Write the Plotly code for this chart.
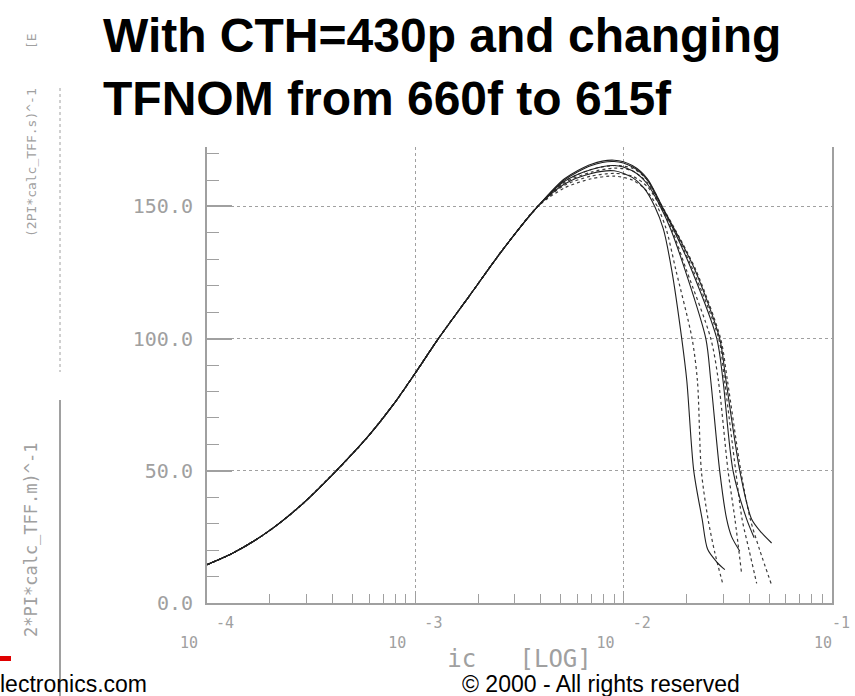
import plotly.graph_objects as go

# ---------------- data ----------------
# common rising branch (all curves overlap here)
IC_RISE = [1.0e-4, 1.34e-4, 1.94e-4, 2.82e-4, 4.17e-4, 5.93e-4, 8.0e-4,
           1.0e-3, 1.29e-3, 1.81e-3, 2.62e-3, 3.87e-3]
FT_RISE = [14.5, 19.0, 26.7, 36.9, 50.0, 63.0, 76.0,
           87.0, 100.0, 116.0, 133.5, 150.0]

# (2*PI*calc_TFF.m)^-1  -- solid curves, one per TFNOM value
M1_IC = [5.2e-3, 7.0e-3, 9.0e-3, 1.10e-2, 1.25e-2, 1.41e-2, 1.55e-2, 1.70e-2,
         1.90e-2, 2.01e-2, 2.17e-2, 2.38e-2, 2.53e-2, 2.80e-2, 3.06e-2]
M1_FT = [158.5, 162.5, 163.5, 161.0, 157.0, 150.0, 141.5, 126.0,
         100.0, 84.0, 50.0, 31.8, 20.3, 15.5, 12.6]
M2_IC = [5.2e-3, 7.0e-3, 9.0e-3, 1.10e-2, 1.30e-2, 1.50e-2, 1.68e-2, 1.97e-2,
         2.48e-2, 2.62e-2, 2.89e-2, 3.12e-2, 3.30e-2, 3.61e-2]
M2_FT = [159.5, 164.0, 165.5, 163.5, 158.5, 150.0, 141.5, 126.0,
         100.0, 84.0, 50.0, 31.8, 25.0, 19.6]
M3_IC = [5.2e-3, 7.0e-3, 9.0e-3, 1.10e-2, 1.30e-2, 1.52e-2, 1.73e-2, 2.12e-2,
         2.80e-2, 3.00e-2, 3.35e-2, 3.89e-2, 4.23e-2]
M3_FT = [160.0, 165.5, 167.0, 165.0, 160.0, 150.0, 141.5, 126.0,
         100.0, 84.0, 50.0, 31.8, 24.7]
M4_IC = [5.2e-3, 7.0e-3, 9.0e-3, 1.10e-2, 1.30e-2, 1.53e-2, 1.75e-2, 2.20e-2,
         2.89e-2, 3.10e-2, 3.61e-2, 4.11e-2, 4.60e-2, 5.13e-2]
M4_FT = [160.5, 166.0, 167.5, 165.5, 160.5, 150.0, 141.5, 126.0,
         100.0, 84.0, 50.0, 31.8, 26.5, 22.7]

# (2PI*calc_TFF.s)^-1  -- dotted curves
S1_IC = [5.2e-3, 7.0e-3, 9.0e-3, 1.10e-2, 1.27e-2, 1.45e-2, 1.60e-2, 1.78e-2,
         2.13e-2, 2.26e-2, 2.36e-2, 2.54e-2, 2.74e-2, 3.00e-2]
S1_FT = [157.0, 160.5, 161.5, 160.0, 156.5, 150.0, 141.5, 126.0,
         100.0, 84.0, 50.0, 31.8, 19.0, 6.8]
S2_IC = [5.2e-3, 7.0e-3, 9.0e-3, 1.10e-2, 1.30e-2, 1.50e-2, 1.70e-2, 2.00e-2,
         2.62e-2, 2.85e-2, 3.17e-2, 3.42e-2, 3.68e-2]
S2_FT = [158.0, 161.5, 162.5, 161.5, 157.5, 150.0, 141.5, 126.0,
         100.0, 84.0, 50.0, 31.8, 11.3]
S3_IC = [5.2e-3, 7.0e-3, 9.0e-3, 1.10e-2, 1.30e-2, 1.52e-2, 1.74e-2, 2.15e-2,
         2.86e-2, 3.05e-2, 3.45e-2, 3.70e-2, 4.00e-2, 4.35e-2]
S3_FT = [159.0, 163.0, 164.5, 163.5, 159.0, 150.0, 141.5, 126.0,
         100.0, 84.0, 50.0, 31.8, 20.0, 7.4]
S4_IC = [5.2e-3, 7.0e-3, 9.0e-3, 1.10e-2, 1.30e-2, 1.53e-2, 1.76e-2, 2.22e-2,
         2.92e-2, 3.15e-2, 3.65e-2, 4.05e-2, 4.50e-2, 5.13e-2]
S4_FT = [159.5, 164.0, 165.5, 164.5, 160.0, 150.0, 141.5, 126.0,
         100.0, 84.0, 50.0, 31.8, 20.0, 6.8]

X_TICKVALS = [1e-4, 1e-3, 1e-2, 1e-1]
X_EXPONENTS = ["-4", "-3", "-2", "-1"]
Y_TICKVALS = [0, 50, 100, 150]
Y_TICKTEXT = ["0.0", "50.0", "100.0", "150.0"]

TITLE_1 = "With CTH=430p and changing"
TITLE_2 = "TFNOM from 660f to 615f"
LEG_S = "(2PI*calc_TFF.s)^-1"
LEG_M = "2*PI*calc_TFF.m)^-1"
LEG_TOP = "[E"
X_TITLE = "ic   [LOG]"
FOOT_L = "lectronics.com"
FOOT_R = "© 2000 - All rights reserved"

# ---------------- layout geometry ----------------
W, H = 855, 696
L, R, T, B = 207, 23, 147, 93
PW, PH = W - L - R, H - T - B


def px(x):
    return (x - L) / PW


def py(y):
    return (H - B - y) / PH


GRAY = "#a0a0a0"
MONO = "DejaVu Sans Mono, monospace"
SANS = "Liberation Sans, Arial, sans-serif"
NARROW = "Liberation Sans Narrow, Liberation Sans, Arial, sans-serif"
NB = "\u00a0"

fig = go.Figure()

solid = [(M1_IC, M1_FT), (M2_IC, M2_FT), (M3_IC, M3_FT), (M4_IC, M4_FT)]
dotted = [(S1_IC, S1_FT), (S2_IC, S2_FT), (S3_IC, S3_FT), (S4_IC, S4_FT)]

for ic, ft in dotted:
    fig.add_trace(go.Scatter(x=IC_RISE + ic, y=FT_RISE + ft, mode="lines",
                             line=dict(color="#3c3c3c", width=1.2, dash="dot",
                                       shape="spline", smoothing=0.8),
                             showlegend=False, hoverinfo="skip"))
for ic, ft in solid:
    fig.add_trace(go.Scatter(x=IC_RISE + ic, y=FT_RISE + ft, mode="lines",
                             line=dict(color="#202020", width=1.1,
                                       shape="spline", smoothing=0.8),
                             showlegend=False, hoverinfo="skip"))

minor_x = [k * v for v in X_TICKVALS[:-1] for k in range(2, 10)]
# last label slightly tighter so it stays inside the picture
x_ticktext = [f"{NB*4}{e}<br>10{NB*4}" for e in X_EXPONENTS[:-1]]
x_ticktext.append(f"{NB*2}{X_EXPONENTS[-1]}<br>10{NB*2}")

fig.update_xaxes(
    type="log", range=[-4, -1], automargin=False,
    tickmode="array", tickvals=X_TICKVALS, ticktext=x_ticktext,
    ticks="inside", ticklen=9, tickwidth=1, tickcolor=GRAY,
    minor=dict(tickmode="array", tickvals=minor_x, ticks="inside",
               ticklen=9, tickwidth=1, tickcolor=GRAY, showgrid=False),
    showgrid=True, gridcolor=GRAY, griddash="dot", gridwidth=1,
    showline=True, linecolor=GRAY, linewidth=2, mirror=False,
    tickfont=dict(family=MONO, size=15, color=GRAY),
    ticklabelstandoff=5, ticklabeloverflow="allow",
    title=dict(text=X_TITLE, font=dict(family=MONO, size=24, color=GRAY),
               standoff=0),
    zeroline=False,
)
fig.update_yaxes(
    range=[0, 172.5], automargin=False,
    tickmode="array", tickvals=Y_TICKVALS, ticktext=Y_TICKTEXT,
    ticks="inside", ticklen=25, tickwidth=2, tickcolor=GRAY,
    minor=dict(dtick=10, ticks="inside", ticklen=12, tickwidth=1,
               tickcolor=GRAY, showgrid=False),
    showgrid=True, gridcolor=GRAY, griddash="dot", gridwidth=1,
    showline=True, linecolor=GRAY, linewidth=2, mirror=True,
    tickfont=dict(family=MONO, size=20, color=GRAY),
    ticklabelstandoff=8,
    zeroline=False,
)

annotations = [
    dict(text=f"<b>{TITLE_1}</b>", x=px(101), y=py(7), xanchor="left",
         yanchor="top", font=dict(family=SANS, size=48, color="black")),
    dict(text=f"<b>{TITLE_2}</b>", x=px(101), y=py(70), xanchor="left",
         yanchor="top", font=dict(family=SANS, size=48, color="black")),
    dict(text=LEG_S, x=px(31), y=py(163), textangle=-90, xanchor="center",
         yanchor="middle", font=dict(family=MONO, size=13, color=GRAY)),
    dict(text=LEG_TOP, x=px(31), y=py(41), textangle=-90, xanchor="center",
         yanchor="middle", font=dict(family=MONO, size=13, color=GRAY)),
    dict(text=LEG_M, x=px(31), y=py(540), textangle=-90, xanchor="center",
         yanchor="middle", font=dict(family=MONO, size=17, color=GRAY)),
    dict(text=FOOT_L, x=px(-2), y=py(684), xanchor="left", yanchor="middle",
         font=dict(family=NARROW, size=23, color="black")),
    dict(text=FOOT_R, x=px(460), y=py(684), xanchor="left", yanchor="middle",
         font=dict(family=NARROW, size=23, color="black")),
]
for a in annotations:
    a.update(xref="paper", yref="paper", showarrow=False)

shapes = [
    dict(type="line", x0=px(60), x1=px(60), y0=py(88), y1=py(372),
         line=dict(color=GRAY, width=1, dash="dot")),
    dict(type="line", x0=px(60), x1=px(60), y0=py(400), y1=py(700),
         line=dict(color=GRAY, width=2)),
    dict(type="rect", x0=px(-2), x1=px(11), y0=py(656), y1=py(661),
         line=dict(width=0), fillcolor="#e00000"),
]
for s in shapes:
    s.update(xref="paper", yref="paper")

fig.update_layout(
    width=W, height=H, margin=dict(l=L, r=R, t=T, b=B, autoexpand=False),
    paper_bgcolor="white", plot_bgcolor="white",
    showlegend=False, annotations=annotations, shapes=shapes,
)

fig.write_html("out.html")
